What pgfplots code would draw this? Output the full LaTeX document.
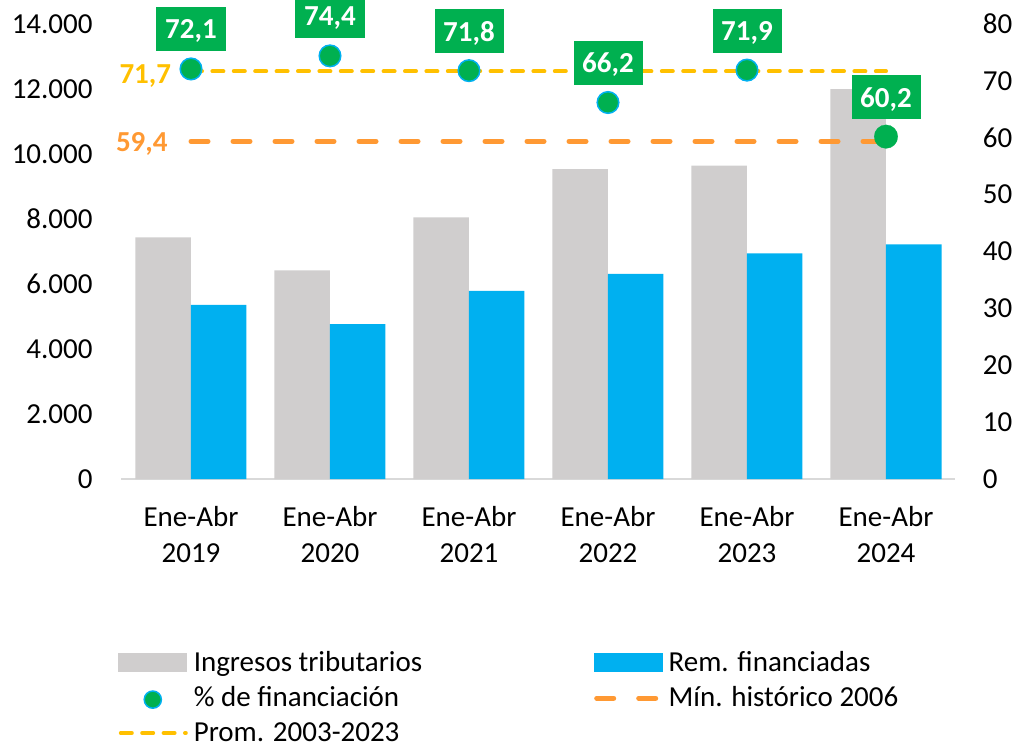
\documentclass[border=0pt]{standalone}
\usepackage{fontspec}
\setmainfont{Carlito}
\usepackage{pgfplots}
\pgfplotsset{compat=1.18}
\definecolor{cgray}{HTML}{D0CECE}
\definecolor{cblue}{HTML}{00B0F0}
\definecolor{cgreen}{HTML}{00B050}
\definecolor{cyellow}{HTML}{FFC000}
\definecolor{corange}{HTML}{FF9933}
\definecolor{caxis}{HTML}{D9D9D9}
\newcommand{\fs}{\fontsize{14.5}{18}\selectfont}
\pgfplotsset{
  mybase/.style={width=417pt,height=227.5pt,scale only axis,xmin=-0.5,xmax=5.5,clip=false,
   major tick length=0pt, tick style={draw=none},
   tick label style={font=\fs},
   /pgf/number format/assume math mode=true}
}
\begin{document}
\begin{tikzpicture}
\path[use as bounding box] (-60.75pt,-133pt) rectangle (447.75pt,239.5pt);
\begin{axis}[mybase, ymin=0, ymax=14000, ytick={0,2000,...,14000},
  scaled y ticks=false,
  axis y line*=left, axis x line*=bottom,
  y axis line style={draw=none},
  x axis line style={draw=caxis, line width=0.75pt},
  xtick={0,...,5},
  xticklabels={{Ene-Abr\\2019},{Ene-Abr\\2020},{Ene-Abr\\2021},{Ene-Abr\\2022},{Ene-Abr\\2023},{Ene-Abr\\2024}},
  xticklabel style={align=center, inner sep=0pt, anchor=north, yshift=-13.5pt},
  yticklabel style={inner sep=0pt, anchor=east, xshift=-14.25pt},
  /pgf/number format/1000 sep={.},
]
\addplot[ybar, bar width=27.75pt, bar shift=-13.875pt, fill=cgray, draw=none] coordinates {(0,7437)(1,6422)(2,8052)(3,9538)(4,9640)(5,12000)};
\addplot[ybar, bar width=27.75pt, bar shift=13.875pt, fill=cblue, draw=none] coordinates {(0,5354)(1,4769)(2,5785)(3,6308)(4,6945)(5,7222)};
\end{axis}
\begin{axis}[mybase, ymin=0, ymax=80, ytick={0,10,...,80},
  axis y line*=right, axis x line=none, y axis line style={draw=none},
  yticklabel style={inner sep=0pt, anchor=west, xshift=13.5pt},
  legend columns=2, legend cell align=left,
  legend style={draw=none, fill=none, at={(0,0)}, anchor=north west, xshift=-1.75pt, yshift=-85.5pt,
    font=\fs, inner sep=0pt, nodes={inner sep=0pt, text height=10.5pt, text depth=3.5pt},
    row sep=3.4pt, /tikz/every odd column/.append style={column sep=3pt}},
]
\addlegendimage{legend image code/.code={\fill[cgray] (0pt,-3.5pt) rectangle (34pt,5.5pt);}}
\addlegendentry{\makebox[200pt][l]{Ingresos tributarios}}
\addlegendimage{legend image code/.code={\fill[cblue] (0pt,-3.5pt) rectangle (34pt,5.5pt);}}
\addlegendentry{Rem. financiadas}
\addlegendimage{legend image code/.code={\filldraw[fill=cgreen,draw=cblue,line width=0.75pt] (17pt,-0.2pt) circle (4.3pt);}}
\addlegendentry{\% de financiación}
\addlegendimage{legend image code/.code={\draw[corange,line width=2.5pt,line cap=round,dash pattern=on 8.5pt off 12.5pt] (1.25pt,0.5pt)--(32.75pt,0.5pt);}}
\addlegendentry{Mín. histórico 2006}
\addlegendimage{legend image code/.code={\draw[cyellow,line width=2pt,line cap=round,dash pattern=on 5.5pt off 5.2pt] (1pt,0.5pt)--(33.5pt,0.5pt);}}
\addlegendentry{Prom. 2003-2023}
\addplot[cyellow,line width=2pt,line cap=round,dash pattern=on 5.5pt off 5.2pt,forget plot] coordinates {(0,71.7)(5,71.7)};
\addplot[corange,line width=2.5pt,line cap=round,dash pattern=on 8.5pt off 12.5pt,forget plot] coordinates {(0,59.4)(5,59.4)};
\addplot[only marks, mark=*, mark size=5.4pt, mark options={fill=cgreen, draw=cblue, line width=0.75pt}, forget plot,
  point meta=explicit symbolic, nodes near coords,
  every node near coord/.append style={fill=cgreen, text=white, font=\bfseries\fs, inner sep=0pt, minimum width=34.5pt, minimum height=22pt, text depth=0pt, anchor=center, yshift=19.75pt}]
  coordinates {(0,72.1) [72,1] (1,74.4) [74,4] (2,71.8) [71,8] (3,66.2) [66,2] (4,71.9) [71,9]};
\addplot[only marks, color=cgreen, mark=*, mark size=5.9pt, mark options={fill=cgreen, draw=cgreen, line width=0.1pt}, forget plot,
  point meta=explicit symbolic, nodes near coords,
  every node near coord/.append style={fill=cgreen, text=white, font=\bfseries\fs, inner sep=0pt, minimum width=34.5pt, minimum height=22pt, text depth=0pt, anchor=center, yshift=19.75pt}]
  coordinates {(5,60.2) [60,2]};
\node[anchor=east, inner sep=0pt, text depth=0pt, text=cyellow, font=\bfseries\fs, xshift=-9.75pt, yshift=-1.25pt] at (axis cs:0,71.7) {71,7};
\node[anchor=east, inner sep=0pt, text depth=0pt, text=corange, font=\bfseries\fs, xshift=-11.5pt, yshift=-0.4pt] at (axis cs:0,59.4) {59,4};
\end{axis}
\end{tikzpicture}
\end{document}
